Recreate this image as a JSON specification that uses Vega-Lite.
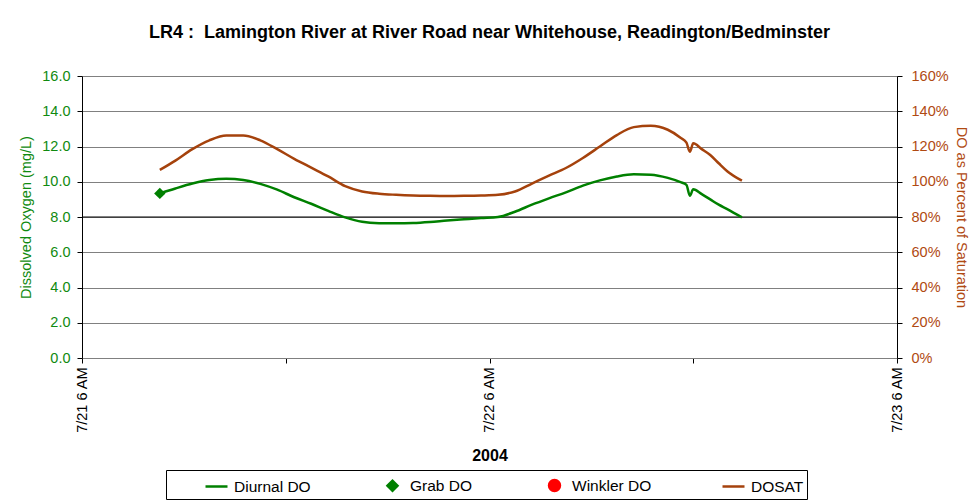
{
  "$schema": "https://vega.github.io/schema/vega-lite/v6.json",
  "width": 815,
  "height": 282,
  "autosize": {"type": "none"},
  "padding": {"left": 82, "top": 76, "right": 80, "bottom": 142},
  "background": "white",
  "title": {
    "text": "LR4 :\u00a0 Lamington River at River Road near Whitehouse, Readington/Bedminster",
    "fontSize": 18, "fontWeight": "bold", "font": "Liberation Sans", "color": "black",
    "offset": 26, "anchor": "middle"
  },
  "config": {"view": {"stroke": null}, "font": "Liberation Sans"},
  "datasets": {
    "diurnal": [
      {"time": "2004-07-21T10:35", "do": 9.34, "dosat": 1.067},
      {"time": "2004-07-21T11:30", "do": 9.62, "dosat": 1.12},
      {"time": "2004-07-21T12:30", "do": 9.9, "dosat": 1.185},
      {"time": "2004-07-21T13:30", "do": 10.1, "dosat": 1.235},
      {"time": "2004-07-21T14:30", "do": 10.17, "dosat": 1.262},
      {"time": "2004-07-21T15:30", "do": 10.1, "dosat": 1.262},
      {"time": "2004-07-21T16:30", "do": 9.88, "dosat": 1.235},
      {"time": "2004-07-21T17:30", "do": 9.55, "dosat": 1.185},
      {"time": "2004-07-21T18:30", "do": 9.12, "dosat": 1.13},
      {"time": "2004-07-21T19:30", "do": 8.75, "dosat": 1.08},
      {"time": "2004-07-21T20:30", "do": 8.35, "dosat": 1.03},
      {"time": "2004-07-21T21:30", "do": 7.98, "dosat": 0.975},
      {"time": "2004-07-21T22:30", "do": 7.73, "dosat": 0.945},
      {"time": "2004-07-21T23:30", "do": 7.65, "dosat": 0.932},
      {"time": "2004-07-22T00:30", "do": 7.64, "dosat": 0.926},
      {"time": "2004-07-22T01:30", "do": 7.66, "dosat": 0.922},
      {"time": "2004-07-22T02:30", "do": 7.72, "dosat": 0.92},
      {"time": "2004-07-22T03:30", "do": 7.8, "dosat": 0.919},
      {"time": "2004-07-22T04:30", "do": 7.87, "dosat": 0.92},
      {"time": "2004-07-22T05:30", "do": 7.94, "dosat": 0.922},
      {"time": "2004-07-22T06:30", "do": 8.0, "dosat": 0.926},
      {"time": "2004-07-22T07:30", "do": 8.3, "dosat": 0.945},
      {"time": "2004-07-22T08:30", "do": 8.7, "dosat": 0.99},
      {"time": "2004-07-22T09:30", "do": 9.06, "dosat": 1.035},
      {"time": "2004-07-22T10:30", "do": 9.4, "dosat": 1.078},
      {"time": "2004-07-22T11:30", "do": 9.78, "dosat": 1.135},
      {"time": "2004-07-22T12:30", "do": 10.08, "dosat": 1.2},
      {"time": "2004-07-22T13:30", "do": 10.3, "dosat": 1.265},
      {"time": "2004-07-22T14:30", "do": 10.42, "dosat": 1.31},
      {"time": "2004-07-22T15:30", "do": 10.4, "dosat": 1.318},
      {"time": "2004-07-22T16:30", "do": 10.22, "dosat": 1.295},
      {"time": "2004-07-22T17:15", "do": 9.98, "dosat": 1.25},
      {"time": "2004-07-22T17:36", "do": 9.82, "dosat": 1.222},
      {"time": "2004-07-22T17:48", "do": 9.2, "dosat": 1.17},
      {"time": "2004-07-22T18:00", "do": 9.57, "dosat": 1.218},
      {"time": "2004-07-22T18:30", "do": 9.3, "dosat": 1.185},
      {"time": "2004-07-22T19:00", "do": 9.0, "dosat": 1.152},
      {"time": "2004-07-22T19:30", "do": 8.7, "dosat": 1.105},
      {"time": "2004-07-22T20:00", "do": 8.45, "dosat": 1.06},
      {"time": "2004-07-22T20:52", "do": 7.98, "dosat": 1.006}
    ],
    "grab": [{"time": "2004-07-21T10:35", "do": 9.34}],
    "standard": [{"do": 8}]
  },
  "resolve": {"scale": {"y": "independent"}},
  "layer": [
    {
      "encoding": {
        "y": {
          "field": "do", "type": "quantitative",
          "scale": {"domain": [0, 16], "nice": false},
          "axis": {
            "orient": "left",
            "values": [0, 2, 4, 6, 8, 10, 12, 14, 16],
            "tickCount": 20,
            "format": ".1f",
            "labelOverlap": false,
            "labelColor": "#108A10",
            "labelFontSize": 14.5,
            "labelPadding": 7,
            "title": "Dissolved Oxygen (mg/L)",
            "titleColor": "#108A10",
            "titleFontSize": 14.5,
            "titleFontWeight": "normal",
            "titlePadding": 8,
            "grid": true,
            "gridColor": "#808080",
            "gridWidth": 1,
            "domainColor": "black",
            "tickColor": "black",
            "tickSize": 5
          }
        }
      },
      "layer": [
        {
          "data": {"name": "standard"},
          "mark": {"type": "rule", "color": "black", "strokeWidth": 1}
        },
        {
          "data": {"name": "diurnal"},
          "mark": {"type": "line", "strokeWidth": 2.5, "interpolate": "monotone"},
          "encoding": {
            "x": {
              "field": "time", "type": "temporal",
              "scale": {"domain": [
                {"year": 2004, "month": 7, "date": 21, "hours": 6},
                {"year": 2004, "month": 7, "date": 23, "hours": 6}
              ]},
              "axis": {
                "values": [
                  {"year": 2004, "month": 7, "date": 21, "hours": 6},
                  {"year": 2004, "month": 7, "date": 21, "hours": 18},
                  {"year": 2004, "month": 7, "date": 22, "hours": 6},
                  {"year": 2004, "month": 7, "date": 22, "hours": 18},
                  {"year": 2004, "month": 7, "date": 23, "hours": 6}
                ],
                "tickCount": 20,
                "labelExpr": "hours(datum.value) == 6 ? timeFormat(datum.value, '%-m/%-d %-I %p') : ''",
                "labelAngle": 270,
                "labelFontSize": 14.5,
                "labelColor": "black",
                "labelOverlap": false,
                "labelFlush": false,
                "labelPadding": 4,
                "title": "2004",
                "titleFontSize": 16,
                "titleFontWeight": "bold",
                "titleColor": "black",
                "titlePadding": 14,
                "grid": false,
                "domainColor": "#808080",
                "tickColor": "black",
                "tickSize": 5
              }
            },
            "color": {
              "datum": "Diurnal DO",
              "scale": {
                "domain": ["Diurnal DO", "Grab DO", "Winkler DO", "DOSAT"],
                "range": ["#008000", "#008000", "#FF0000", "#A5420C"]
              },
              "legend": {
                "orient": "none",
                "legendX": 84,
                "legendY": 394,
                "direction": "horizontal",
                "columns": 4,
                "title": null,
                "strokeColor": "black",
                "fillColor": "white",
                "padding": 3,
                "symbolOffset": 35,
                "columnPadding": 34,
                "labelFontSize": 15.5,
                "labelFont": "Liberation Sans",
                "labelColor": "black",
                "labelOffset": 5,
                "symbolSize": 484,
                "encode": {
                  "symbols": {
                    "update": {
                      "shape": {"signal": "datum.value === 'Grab DO' ? 'diamond' : datum.value === 'Winkler DO' ? 'circle' : 'stroke'"},
                      "size": {"signal": "datum.value === 'Grab DO' ? 100 : datum.value === 'Winkler DO' ? 120 : 484"},
                      "fill": {"signal": "datum.value === 'Grab DO' ? '#008000' : datum.value === 'Winkler DO' ? '#FF0000' : 'transparent'"},
                      "stroke": {"signal": "datum.value === 'Diurnal DO' ? '#008000' : datum.value === 'DOSAT' ? '#A5420C' : 'transparent'"},
                      "strokeWidth": {"value": 2.5},
                      "opacity": {"value": 1}
                    }
                  }
                }
              }
            }
          }
        },
        {
          "data": {"name": "grab"},
          "mark": {"type": "point", "shape": "diamond", "filled": true, "size": 130, "opacity": 1},
          "encoding": {
            "x": {"field": "time", "type": "temporal"},
            "color": {"datum": "Grab DO"}
          }
        }
      ]
    },
    {
      "data": {"name": "diurnal"},
      "mark": {"type": "line", "strokeWidth": 2.5, "interpolate": "monotone"},
      "encoding": {
        "x": {"field": "time", "type": "temporal"},
        "y": {
          "field": "dosat", "type": "quantitative",
          "scale": {"domain": [0, 1.6]},
          "axis": {
            "orient": "right",
            "values": [0, 0.2, 0.4, 0.6, 0.8, 1.0, 1.2, 1.4, 1.6],
            "tickCount": 20,
            "format": ".0%",
            "labelOverlap": false,
            "labelColor": "#B04A12",
            "labelFontSize": 14.5,
            "labelPadding": 9,
            "title": "DO as Percent of Saturation",
            "titleColor": "#B04A12",
            "titleFontSize": 14.5,
            "titleFontWeight": "normal",
            "titlePadding": 5,
            "grid": false,
            "domainColor": "black",
            "tickColor": "black",
            "tickSize": 5
          }
        },
        "color": {"datum": "DOSAT"}
      }
    }
  ]
}
